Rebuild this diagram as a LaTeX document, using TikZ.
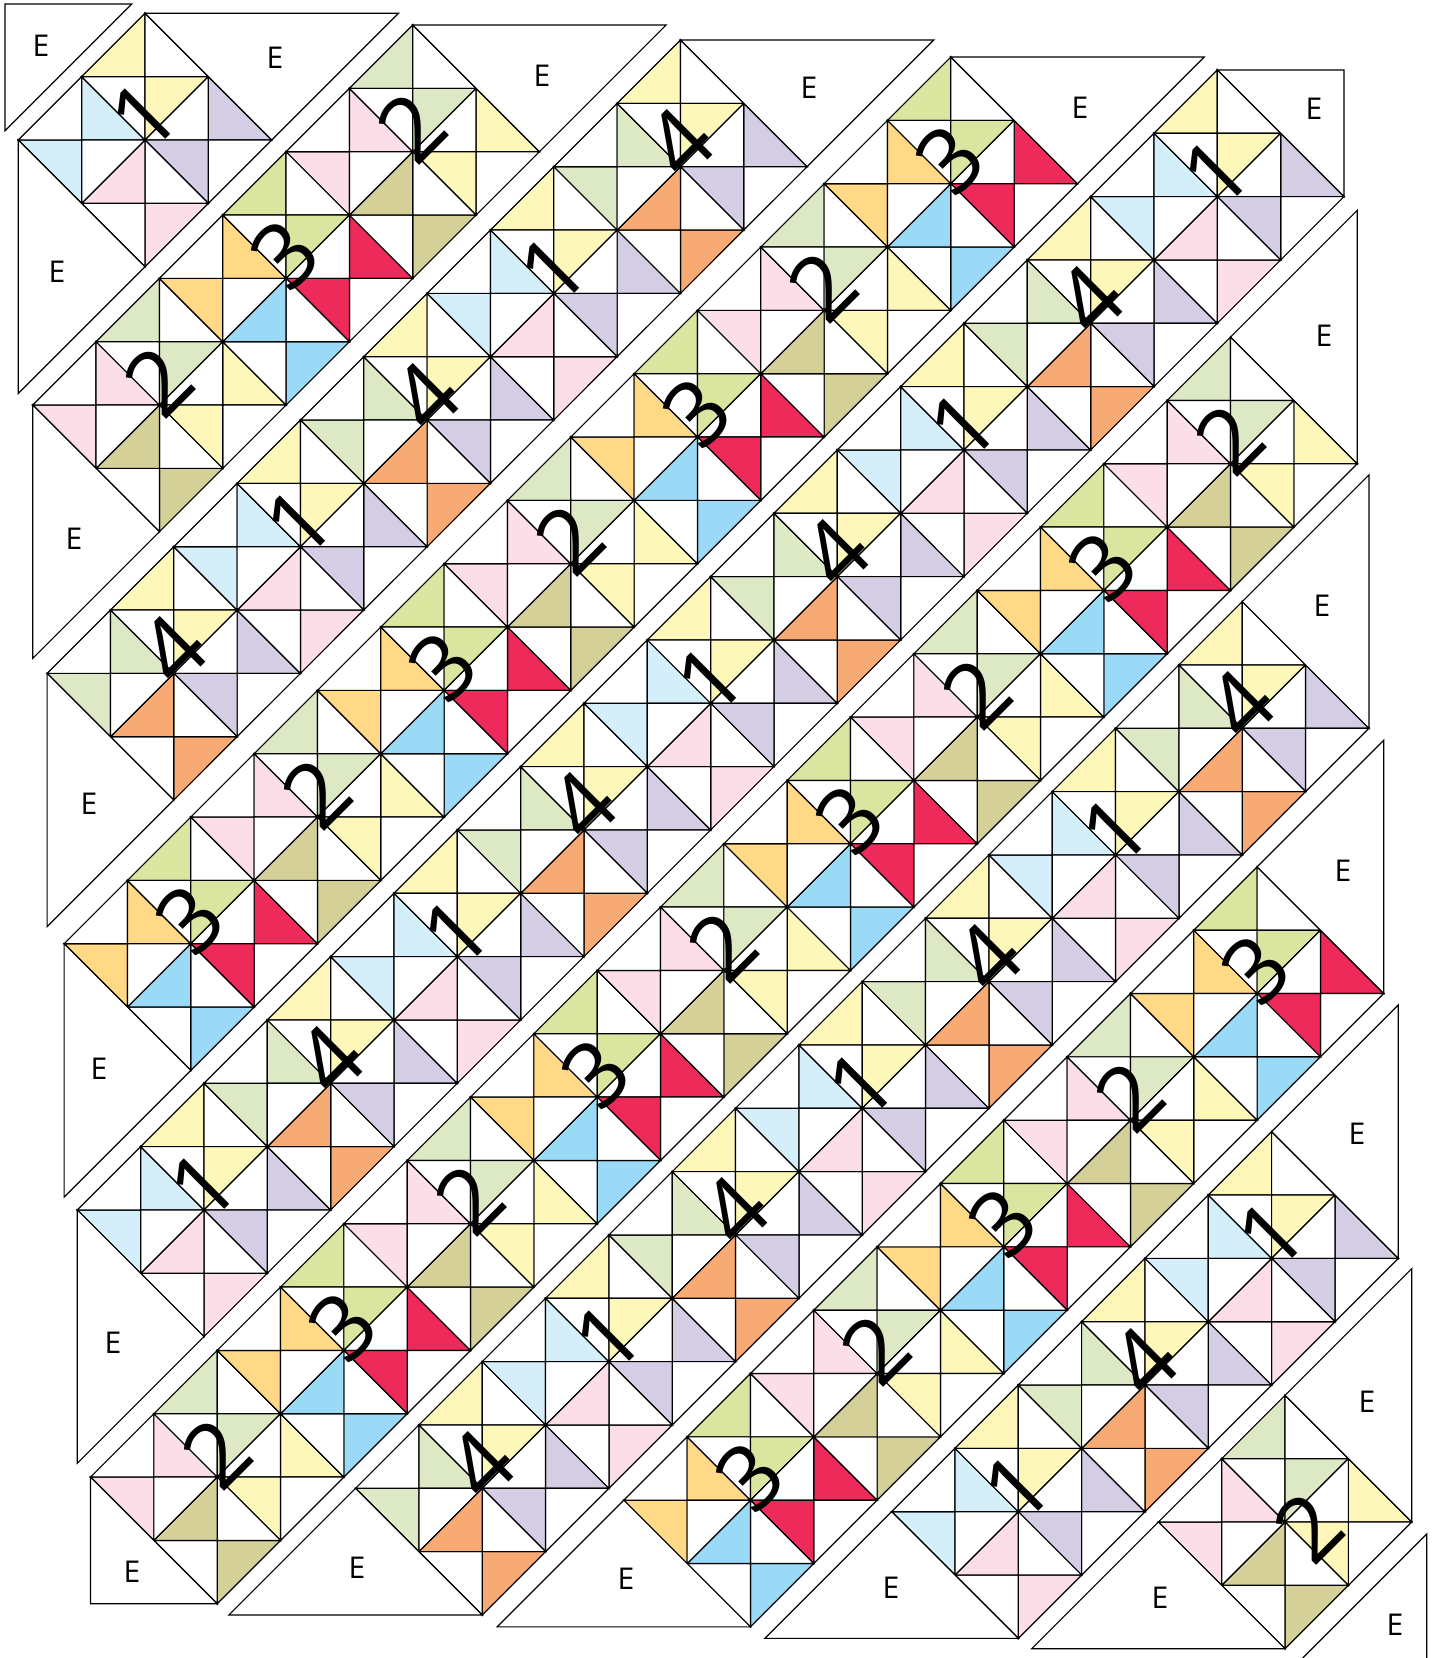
\documentclass[tikz,border=0pt]{standalone}
\usepackage{fontspec}
\setmainfont{Open Sans}
\definecolor{qyel}{HTML}{FDF8B9}
\definecolor{qlav}{HTML}{D4CDE4}
\definecolor{qpink}{HTML}{FCDEE9}
\definecolor{qlblue}{HTML}{D4EEFA}
\definecolor{qlgreen}{HTML}{DCE9C4}
\definecolor{qkhaki}{HTML}{D5D098}
\definecolor{qlime}{HTML}{DAE6A0}
\definecolor{qred}{HTML}{EE2A5A}
\definecolor{qsky}{HTML}{9BDAF7}
\definecolor{qgold}{HTML}{FFD986}
\definecolor{qorange}{HTML}{F8AA74}
\tikzset{
 piece/.style={draw=black, line width=1.2pt, line join=miter},
 setting/.style={draw=black, line width=1.2pt, fill=white},
 digit/.style={font=\fontsize{90}{90}\selectfont, rotate=45, inner sep=0pt},
 elabel/.style={font=\fontsize{30}{30}\selectfont, inner sep=0pt},
}
\def\qs{63.333}
\def\qt{126.667}
\newcommand\qtri[4]{\filldraw[piece,fill=#1] #2 -- #3 -- #4 -- cycle;}
\newcommand\qsetcols[1]{\ifcase#1\relax\or
 \def\qct{qyel}\def\qcr{qlav}\def\qcb{qpink}\def\qcl{qlblue}\or
 \def\qct{qlgreen}\def\qcr{qyel}\def\qcb{qkhaki}\def\qcl{qpink}\or
 \def\qct{qlime}\def\qcr{qred}\def\qcb{qsky}\def\qcl{qgold}\or
 \def\qct{qyel}\def\qcr{qlav}\def\qcb{qorange}\def\qcl{qlgreen}\fi}
\newcommand\qblock[6]{%
\begin{scope}[shift={(#1,#2)}]
 \qtri{#3}{(-\qs,-\qs)}{(0,-\qt)}{(0,-\qs)}
 \qtri{white}{(0,-\qt)}{(\qs,-\qs)}{(0,-\qs)}
 \qtri{#4}{(\qs,-\qs)}{(\qt,0)}{(\qs,0)}
 \qtri{white}{(\qt,0)}{(\qs,\qs)}{(\qs,0)}
 \qtri{#5}{(\qs,\qs)}{(0,\qt)}{(0,\qs)}
 \qtri{white}{(0,\qt)}{(-\qs,\qs)}{(0,\qs)}
 \qtri{#6}{(-\qs,\qs)}{(-\qt,0)}{(-\qs,0)}
 \qtri{white}{(-\qt,0)}{(-\qs,-\qs)}{(-\qs,0)}
 \qtri{#6}{(-\qs,-\qs)}{(-\qs,0)}{(0,0)}
 \qtri{white}{(-\qs,-\qs)}{(0,-\qs)}{(0,0)}
 \qtri{#3}{(0,-\qs)}{(\qs,-\qs)}{(0,0)}
 \qtri{white}{(\qs,-\qs)}{(\qs,0)}{(0,0)}
 \qtri{#4}{(\qs,0)}{(\qs,\qs)}{(0,0)}
 \qtri{white}{(\qs,\qs)}{(0,\qs)}{(0,0)}
 \qtri{#5}{(0,\qs)}{(-\qs,\qs)}{(0,0)}
 \qtri{white}{(-\qs,\qs)}{(-\qs,0)}{(0,0)}
\end{scope}}
\begin{document}
\begin{tikzpicture}[x=1pt,y=-1pt]
\fill[white] (0,0) rectangle (1439,1658);
\useasboundingbox (0,0) rectangle (1439,1658);
% blocks
\foreach \k/\dx/\dy/\mlo/\mhi/\tE/\tO in {0/0/0/0/0/1/4, 1/14.4/11.7/-1/1/2/3, 2/28.8/26.7/-2/2/4/1, 3/45.8/43.7/-3/3/3/2, 4/59/56.6/-4/4/1/4, 5/72.2/70.4/-5/3/2/3, 6/83.9/81.6/-4/2/4/1, 7/98.8/93.5/-3/1/3/2, 8/113.3/105/-2/0/1/4, 9/126.7/115.3/-1/-1/2/3}{
 \foreach \m in {\mlo,...,\mhi}{
  \pgfmathsetmacro\cx{145+\qt*(\k+\m)+\dx}
  \pgfmathsetmacro\cy{140+\qt*(\k-\m)+\dy}
  \pgfmathtruncatemacro\pa{mod(\k+\m+10,2)}
  \ifnum\pa=0 \edef\ty{\tE}\else\edef\ty{\tO}\fi
  \qsetcols{\ty}
  \qblock{\cx}{\cy}{\qct}{\qcr}{\qcb}{\qcl}
 }
}
% digits
\foreach \k/\dx/\dy/\mlo/\mhi/\tE/\tO in {0/0/0/0/0/1/4, 1/14.4/11.7/-1/1/2/3, 2/28.8/26.7/-2/2/4/1, 3/45.8/43.7/-3/3/3/2, 4/59/56.6/-4/4/1/4, 5/72.2/70.4/-5/3/2/3, 6/83.9/81.6/-4/2/4/1, 7/98.8/93.5/-3/1/3/2, 8/113.3/105/-2/0/1/4, 9/126.7/115.3/-1/-1/2/3}{
 \foreach \m in {\mlo,...,\mhi}{
  \pgfmathsetmacro\cx{145+\qt*(\k+\m)+\dx}
  \pgfmathsetmacro\cy{140+\qt*(\k-\m)+\dy}
  \pgfmathtruncatemacro\pa{mod(\k+\m+10,2)}
  \pgfmathtruncatemacro\mi{\m+5}
  \ifnum\pa=0 \edef\ty{\tE}\else\edef\ty{\tO}\fi
  \ifnum\k=9 \def\ox{24}\def\oy{5}\else\def\ox{-1}\def\oy{-24}\fi
  \node[digit] (n\k-\mi) at (\cx+\ox,\cy+\oy) {\ty};
 }
}
% setting triangles: top-left corner
\filldraw[setting] (18.333-13.3,13.333-9.3) -- (145-13.3,13.333-9.3) -- (18.333-13.3,140-9.3) -- cycle;
% top
\foreach \k/\dx/\dy in {0/0/0,1/14.4/11.7,2/28.8/26.7,3/45.8/43.7}{
 \pgfmathsetmacro\xa{145+253.333*\k+\dx}
 \filldraw[setting] (\xa,13.333+\dy) -- (\xa+253.333,13.333+\dy) -- (\xa+126.667,140+\dy) -- cycle;
}
% top-right corner
\filldraw[setting] (1158.333+59,13.333+56.6) -- (1285+59,13.333+56.6) -- (1285+59,140+56.6) -- cycle;
% right
\foreach \k/\dx/\dy in {5/72.2/70.4,6/83.9/81.6,7/98.8/93.5,8/113.3/105,9/126.7/115.3}{
 \pgfmathsetmacro\yc{140+126.667*(2*\k-8)+\dy}
 \filldraw[setting] (1158.333+\dx,\yc-126.667) -- (1285+\dx,\yc-253.333) -- (1285+\dx,\yc) -- cycle;
}
% bottom-right corner
\filldraw[setting] (1285+141.7,1406.667+127.3) -- (1285+141.7,1533.333+127.3) -- (1158.333+141.7,1533.333+127.3) -- cycle;
% left
\foreach \k/\dx/\dy in {0/0/0,1/14.4/11.7,2/28.8/26.7,3/45.8/43.7,4/59/56.6}{
 \pgfmathsetmacro\yc{140+253.333*\k+\dy}
 \filldraw[setting] (18.333+\dx,\yc) -- (145+\dx,\yc+126.667) -- (18.333+\dx,\yc+253.333) -- cycle;
}
% bottom-left corner
\filldraw[setting] (18.333+72.2,1406.667+70.4) -- (145+72.2,1533.333+70.4) -- (18.333+72.2,1533.333+70.4) -- cycle;
% bottom
\foreach \k/\dx/\dy in {6/83.9/81.6,7/98.8/93.5,8/113.3/105,9/126.7/115.3}{
 \pgfmathsetmacro\xc{145+126.667*(2*\k-10)+\dx}
 \filldraw[setting] (\xc-126.667,1406.667+\dy) -- (\xc,1533.333+\dy) -- (\xc-253.333,1533.333+\dy) -- cycle;
}
% E labels
\foreach \n/\x/\y in {1/41/46, 2/275/58, 3/542/76, 4/809/88, 5/1080/108, 6/1314/109,
 7/1324/336, 8/1322/606, 9/1343/871, 10/1357/1134, 11/1367/1402, 12/1395/1625,
 13/57/272, 14/74/539, 15/89/804, 16/99/1069, 17/113/1343, 18/132/1572,
 19/357/1568, 20/626/1579, 21/891/1588, 22/1160/1598}{
 \node[elabel] (e\n) at (\x,\y) {E};
}
\end{tikzpicture}
\end{document}
